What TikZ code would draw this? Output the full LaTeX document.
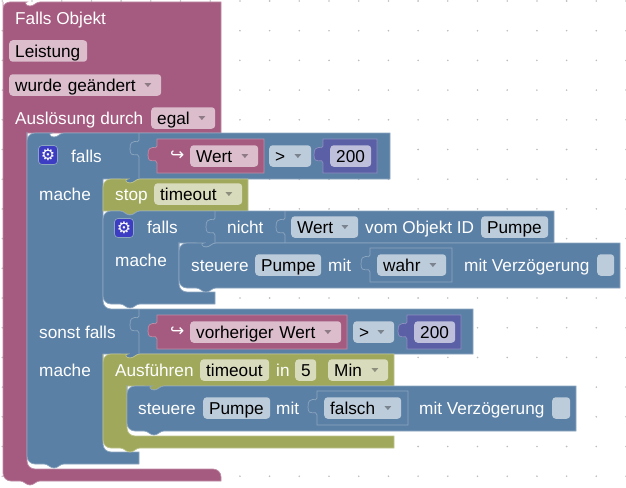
\documentclass[tikz,border=0pt]{standalone}
\usepackage{xcolor}
\usepackage{fontspec}
\usepackage{tikz}
\setmainfont{Liberation Sans}
\newfontfamily\symfont{DejaVu Sans}
\usetikzlibrary{positioning, calc}
\definecolor{purp}{HTML}{A55B80}
\definecolor{purpe}{HTML}{C08CA6}
\definecolor{purpf}{HTML}{DBBDCC}
\definecolor{blu}{HTML}{5B80A5}
\definecolor{blue2}{HTML}{8CA6C0}
\definecolor{bluf}{HTML}{BDCCDB}
\definecolor{oliv}{HTML}{A0A85B}
\definecolor{olive2}{HTML}{BDC28C}
\definecolor{olivf}{HTML}{D9DBBD}
\definecolor{indi}{HTML}{5B5FA5}
\definecolor{indie}{HTML}{8C8FC0}
\definecolor{indif}{HTML}{BDBFDB}
\definecolor{gearc}{HTML}{3D3DC4}
\definecolor{dotc}{HTML}{BDBDBD}
\newcommand{\blockfont}{\fontsize{17.2}{20}\selectfont}
\newcommand{\notchdip}{to[out=0,in=180] ++(10,4) to[out=0,in=180] ++(10,-4)}
\newcommand{\nubdown}{to[out=180,in=0] ++(-10,4) to[out=180,in=0] ++(-10,-4)}
\newcommand{\valblock}[4]{\draw[#1, shift={(#2,#3)}] (0,0) -- (#4,0) -- (#4,34) -- (0,34) -- (0,24)
  .. controls (0,18) and (-9,27) .. (-9,16) .. controls (-9,3) and (0,12) .. (0,7) -- cycle;}
\newcommand{\puzline}[4]{\draw[#1, shift={(#2,#3)}] (0,0) -- (0,7) .. controls (0,12) and (-9,3) .. (-9,16)
  .. controls (-9,27) and (0,18) .. (0,24) -- (0,#4);}
\newcommand{\ddtri}[1]{\fill[black, opacity=.35] ($(#1.east)+(-17,-2)$) -- ++(7,0) -- ++(-3.5,4) -- cycle;}
\tikzset{
  purpblock/.style={fill=purp, draw=purpe, line width=0.7pt},
  blueblock/.style={fill=blu, draw=blue2, line width=0.7pt},
  oliveblock/.style={fill=oliv, draw=olive2, line width=0.7pt},
  indiblock/.style={fill=indi, draw=indie, line width=0.7pt},
  field/.style={anchor=west, rounded corners=3.5pt, inner xsep=6pt, inner ysep=2.5pt,
                text height=14.5pt, text depth=2pt, align=left, text=black, font=\blockfont},
  purpfield/.style={field, fill=purpf, text width=#1},
  bluefield/.style={field, fill=bluf, text width=#1},
  olivefield/.style={field, fill=olivf, text width=#1},
  indifield/.style={field, fill=indif, text width=#1},
  lab/.style={anchor=west, inner sep=0pt, text=white, font=\blockfont,
              text height=14.5pt, text depth=2pt},
  gearbox/.style={fill=gearc, draw=blue2, line width=0.7pt, rounded corners=3.5pt,
                  minimum size=19pt, inner sep=0pt, text=white, font=\symfont\fontsize{16}{16}\selectfont},
  arrsym/.style={anchor=west, inner sep=0pt, text=white, font=\symfont\fontsize{17}{17}\selectfont},
}
\begin{document}
\begin{tikzpicture}[x=1pt, y=-1pt]
  \useasboundingbox (0,0) rectangle (626,487);
  \foreach \i in {0,...,21}
    \foreach \j in {0,...,16}
      \fill[dotc] ({2.3+29.7*\i},{1+29.7*\j}) circle (0.9pt);
  % hat block
  \draw[purpblock] (3,10) [rounded corners=7pt] -- (3,2) -- (20,2) [sharp corners] \notchdip -- (221,2) -- (221,133) -- (27,133)
    [rounded corners=8pt] -- (27,469) -- (221,469) [sharp corners] -- (221,481) -- (40,481) \nubdown
    [rounded corners=8pt] -- (3,481) -- cycle;
  % falls block
  \draw[blueblock] (27,140) [rounded corners=8pt] -- (27,133) -- (44,133) [sharp corners] \notchdip -- (390,133) -- (390,179)
    -- (140,179) \nubdown -- (103,179) [rounded corners=8pt] -- (103,309) [sharp corners] -- (473,309) -- (473,354)
    -- (140,354) \nubdown -- (103,354) [rounded corners=8pt] -- (103,452) [sharp corners] -- (139,452) -- (139,464)
    -- (64,464) \nubdown [rounded corners=8pt] -- (27,464) -- cycle;
  % stop block
  \draw[oliveblock] (103,187) [rounded corners=8pt] -- (103,179) -- (120,179) [sharp corners] \notchdip -- (248,179) -- (248,211)
    -- (140,211) \nubdown -- (103,211) -- cycle;
  % inner falls block
  \draw[blueblock] (103,211) -- (120,211) \notchdip -- (554,211) -- (554,243) -- (216,243) \nubdown -- (179,243)
    [rounded corners=8pt] -- (179,292) [sharp corners] -- (215,292) -- (215,304) -- (140,304) \nubdown
    [rounded corners=8pt] -- (103,304) -- cycle;
  % steuere block
  \draw[blueblock] (179,250) [rounded corners=8pt] -- (179,243) -- (196,243) [sharp corners] \notchdip -- (620,243) -- (620,288)
    -- (216,288) \nubdown [rounded corners=8pt] -- (179,288) -- cycle;
  % timeout block
  \draw[oliveblock] (103,362) [rounded corners=8pt] -- (103,354) -- (120,354) [sharp corners] \notchdip -- (394,354) -- (394,386)
    -- (164,386) \nubdown -- (127,386) [rounded corners=8pt] -- (127,436) [sharp corners] -- (394,436) -- (394,448)
    -- (140,448) \nubdown [rounded corners=8pt] -- (103,448) -- cycle;
  % steuere block in timeout
  \draw[blueblock] (127,393) [rounded corners=8pt] -- (127,386) -- (144,386) [sharp corners] \notchdip -- (576,386) -- (576,431)
    -- (164,431) \nubdown [rounded corners=8pt] -- (127,431) -- cycle;
  % puzzle lines and value blocks
  \puzline{blue2, line width=0.7pt}{139}{133}{46}
  \puzline{blue2, line width=0.7pt}{139}{309}{45}
  \puzline{blue2, line width=0.7pt}{215}{211}{32}
  \puzline{blue2, line width=0.7pt}{285}{211}{32}
  \valblock{purpblock}{157}{139}{107}
  \valblock{indiblock}{323}{139}{54}
  \valblock{purpblock}{157}{315}{190}
  \valblock{indiblock}{407}{315}{54}
  \valblock{blueblock}{370}{248}{82}
  \valblock{blueblock}{317}{391}{91}
  % hat texts
  \node[lab] (fallsobj) at (15,18) {Falls Objekt};
  \node[purpfield=66pt] (leist) at (9,51) {Leistung};
  \node[purpfield=140pt] (wurde) at (9,85) {wurde geändert};
  \node[lab] (ausl) at (15,118) {Auslösung durch};
  \node[purpfield=52pt] (egal) at (151,118) {egal};
  \ddtri{wurde} \ddtri{egal}
  % first falls
  \node[gearbox] (gearA) at (48,155) {⚙};
  \node[lab] (fallsA) at (71,156) {falls};
  \node[arrsym] (arrA) at (170,156) {↪};
  \node[purpfield=56pt] (wertA) at (190,156) {Wert};
  \node[bluefield=30pt] (opA) at (269,156) {>};
  \node[indifield=29pt] (zweiA) at (330,156) {200};
  \ddtri{wertA} \ddtri{opA}
  \node[lab] (macheA) at (39,194) {mache};
  \node[lab] (stopl) at (115,194) {stop};
  \node[olivefield=76pt] (timeA) at (154,194) {timeout};
  \ddtri{timeA}
  % inner falls
  \node[gearbox] (gearB) at (124,228) {⚙};
  \node[lab] (fallsB) at (147,227) {falls};
  \node[lab] (nicht) at (227,227) {nicht};
  \node[bluefield=55pt] (wertB) at (291,227) {Wert};
  \ddtri{wertB}
  \node[lab] (vom) at (365,227) {vom Objekt ID};
  \node[bluefield=55pt] (pumpeA) at (481,227) {Pumpe};
  \node[lab] (macheB) at (115,260) {mache};
  \node[lab] (steuA) at (191,265) {steuere};
  \node[bluefield=54pt] (pumpeB) at (255,265) {Pumpe};
  \node[lab] (mitA) at (328,265) {mit};
  \node[bluefield=57pt] (wahr) at (377,265) {wahr};
  \ddtri{wahr}
  \node[lab] (verzA) at (464,265) {mit Verzögerung};
  \node[bluefield=5pt] (leerA) at (597,265) {};
  % sonst falls
  \node[lab] (sonst) at (39,332) {sonst falls};
  \node[arrsym] (arrB) at (170,332) {↪};
  \node[purpfield=139pt] (wertC) at (190,332) {vorheriger Wert};
  \node[bluefield=29pt] (opB) at (353,332) {>};
  \node[indifield=29pt] (zweiB) at (414,332) {200};
  \ddtri{wertC} \ddtri{opB}
  \node[lab] (macheC) at (39,370) {mache};
  \node[lab] (ausf) at (115,370) {Ausführen};
  \node[olivefield=57pt] (timeB) at (200,370) {timeout};
  \node[lab] (inl) at (276,370) {in};
  \node[olivefield=9pt] (fuenf) at (295,370) {5};
  \node[olivefield=48pt] (minu) at (328,370) {Min};
  \ddtri{minu}
  \node[lab] (steuB) at (138,408) {steuere};
  \node[bluefield=55pt] (pumpeC) at (203,408) {Pumpe};
  \node[lab] (mitB) at (276,408) {mit};
  \node[bluefield=65pt] (falsch) at (324,408) {falsch};
  \ddtri{falsch}
  \node[lab] (verzB) at (419,408) {mit Verzögerung};
  \node[bluefield=6pt] (leerB) at (552,408) {};
\end{tikzpicture}
\end{document}
